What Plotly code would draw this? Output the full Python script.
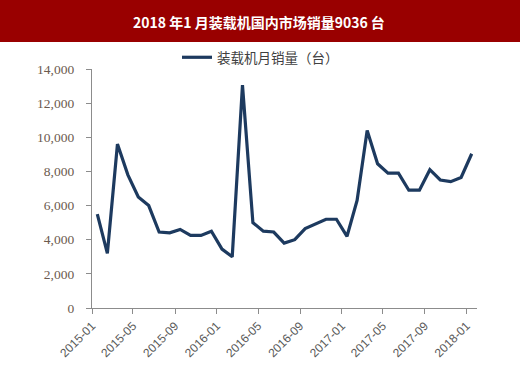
import plotly.graph_objects as go

months = [f"{y}-{m:02d}-01" for y in (2015, 2016, 2017) for m in range(1, 13)] + ["2018-01-01"]
sales = [5500, 3200, 9600, 7800, 6500, 6000, 4450, 4400, 4600, 4250, 4250, 4500,
         3450, 3000, 13050, 5000, 4500, 4450, 3800, 4000, 4650, 4900, 5200, 5200,
         4200, 6300, 10400, 8450, 7900, 7900, 6900, 6900, 8100, 7500, 7400, 7650,
         9036]
series_name = "装载机月销量（台）"
title_text = "2018 年1 月装载机国内市场销量9036 台"
y_tickvals = [0, 2000, 4000, 6000, 8000, 10000, 12000, 14000]
y_ticktext = ["0", "2,000", "4,000", "6,000", "8,000", "10,000", "12,000", "14,000"]

W, H = 520, 387
L, R, T, B = 92, 43, 69, 79
pw, ph = W - L - R, H - T - B

def px_x(p):
    return (p - L) / pw

def px_y(p):
    return (H - B - p) / ph

fig = go.Figure()
fig.add_trace(go.Scatter(
    x=months, y=sales, mode="lines", name=series_name,
    xperiod="M1", xperiodalignment="middle",
    line=dict(color="#1d3a5f", width=3.2),
))

fig.update_layout(
    width=W, height=H,
    margin=dict(l=L, r=R, t=T, b=B),
    paper_bgcolor="white", plot_bgcolor="white",
    showlegend=True,
    legend=dict(
        orientation="h", x=px_x(177), y=px_y(42), xanchor="left", yanchor="top",
        font=dict(family="Noto Sans CJK SC", size=13.5, color="#404040"),
        bgcolor="rgba(0,0,0,0)", itemwidth=30,
    ),
    xaxis=dict(
        type="date", range=["2015-01-01", "2018-02-01"],
        tickvals=[m for i, m in enumerate(months) if i % 4 == 0],
        tickformat="%Y-%m", tickangle=-45,
        showline=True, linecolor="#8c8c8c", linewidth=1.2,
        ticks="outside", ticklen=5, tickcolor="#8c8c8c",
        showgrid=False, zeroline=False,
        tickfont=dict(family="Liberation Sans", size=12, color="#595959"),
    ),
    yaxis=dict(
        range=[0, 14000], tickvals=y_tickvals, ticktext=y_ticktext,
        showline=True, linecolor="#8c8c8c", linewidth=1.2,
        ticks="outside", ticklen=5, tickcolor="#8c8c8c",
        showgrid=False, zeroline=False, ticklabelstandoff=9,
        tickfont=dict(family="Liberation Serif", size=13.5, color="#6b5a4e"),
    ),
    shapes=[dict(
        type="rect", xref="paper", yref="paper",
        x0=px_x(0), x1=px_x(W), y0=px_y(42), y1=px_y(0),
        fillcolor="#990000", line=dict(width=0), layer="below",
    )],
    annotations=[dict(
        text=f"<b>{title_text}</b>", xref="paper", yref="paper",
        x=px_x(W / 2 - 1), y=px_y(22), xanchor="center", yanchor="middle",
        showarrow=False,
        font=dict(family="Noto Sans CJK SC", size=14, color="white"),
    )],
)

fig.write_html("out.html", config={"displayModeBar": False},
               post_script="document.body.style.margin='0';")
